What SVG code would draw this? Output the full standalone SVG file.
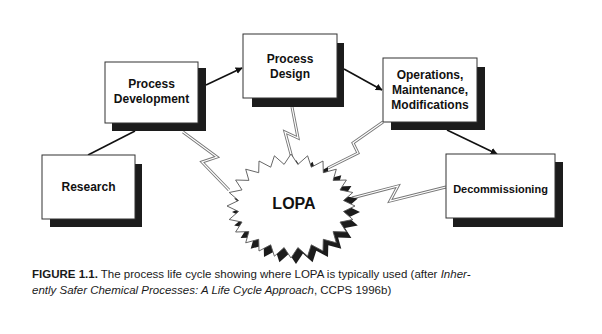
<svg xmlns="http://www.w3.org/2000/svg" width="602" height="334" viewBox="0 0 602 334">
<style>
.sh{fill:#1c1c1c}
.bx{fill:#fff;stroke:#333;stroke-width:1}
.lb{font-family:"Liberation Sans",Arial,sans-serif;font-weight:bold;font-size:12px;fill:#111;text-anchor:middle}
.ar{stroke:#111;stroke-width:1.6;fill:none}
.bo{fill:none;stroke:#777;stroke-width:3;stroke-linejoin:miter}
.bi{fill:none;stroke:#fff;stroke-width:1.2;stroke-linejoin:miter}
.cap{font-family:"Liberation Sans",Arial,sans-serif;font-size:11.5px;fill:#1a1a1a}
</style>
<defs>
<marker id="ah" viewBox="0 0 10 10" refX="9" refY="5" markerWidth="7" markerHeight="7" orient="auto" markerUnits="userSpaceOnUse">
<path d="M0,0 L10,5 L0,10 z" fill="#111"/>
</marker>
</defs>
<rect width="602" height="334" fill="#fff"/>

<g id="connectors">
<line class="ar" x1="88" y1="155" x2="135" y2="131"/>
<line class="ar" x1="206" y1="85" x2="242" y2="68" marker-end="url(#ah)"/>
<line class="ar" x1="344" y1="69" x2="382" y2="90" marker-end="url(#ah)"/>
<line class="ar" x1="447" y1="130" x2="497" y2="154" marker-end="url(#ah)"/>
<g id="bolts">
<path class="bo" d="M183,132 L217,157 L202,162 L229,190"/>
<path class="bi" d="M183,132 L217,157 L202,162 L229,190"/>
<path class="bo" d="M292,107 L298,138 L285,132 L292,158"/>
<path class="bi" d="M292,107 L298,138 L285,132 L292,158"/>
<path class="bo" d="M383,122 L353,143 L358,153 L328,168"/>
<path class="bi" d="M383,122 L353,143 L358,153 L328,168"/>
<path class="bo" d="M446,187 L390,201 L398,186 L352,198"/>
<path class="bi" d="M446,187 L390,201 L398,186 L352,198"/>
</g>
</g>

<g id="research">
<rect class="sh" x="50" y="164" width="92" height="63"/>
<rect class="bx" x="42" y="155" width="93" height="64"/>
<text class="lb" x="88.5" y="191">Research</text>
</g>

<g id="process-development">
<rect class="sh" x="112" y="68" width="94" height="63"/>
<rect class="bx" x="105" y="62" width="93" height="61"/>
<text class="lb" x="151.5" y="88">Process</text>
<text class="lb" x="151.5" y="103">Development</text>
</g>

<g id="process-design">
<rect class="sh" x="252" y="43" width="92" height="64"/>
<rect class="bx" x="243" y="34" width="94" height="64"/>
<text class="lb" x="290" y="63">Process</text>
<text class="lb" x="290" y="78">Design</text>
</g>

<g id="operations">
<rect class="sh" x="391" y="67" width="94" height="63"/>
<rect class="bx" x="383" y="58" width="94" height="64"/>
<text class="lb" x="430" y="79">Operations,</text>
<text class="lb" x="430" y="94">Maintenance,</text>
<text class="lb" x="430" y="109">Modifications</text>
</g>

<g id="decommissioning">
<rect class="sh" x="453" y="162" width="110" height="65"/>
<rect class="bx" x="446" y="154" width="109" height="64"/>
<text class="lb" x="500.5" y="193" style="font-size:11px">Decommissioning</text>
</g>

<g id="lopa">
<polygon class="sh" transform="translate(5,6)" points="355,206 343.5,211.5 352.8,219.5 340,222.1 346.4,232 333.1,231.6 336.3,242.8 323.3,239.3 323,251 311.3,244.8 307.6,256.2 297.9,247.6 291,258 284.1,247.6 274.4,256.2 270.7,244.8 259,251 258.7,239.3 245.7,242.8 248.9,231.6 235.6,232 242,222.1 229.2,219.5 238.5,211.5 227,206 238.5,200.5 229.2,192.5 242,189.9 235.6,180 248.9,180.4 245.7,169.2 258.7,172.7 259,161 270.7,167.2 274.4,155.8 284.1,164.4 291,154 297.9,164.4 307.6,155.8 311.3,167.2 323,161 323.3,172.7 336.3,169.2 333.1,180.4 346.4,180 340,189.9 352.8,192.5 343.5,200.5"/>
<polygon fill="#fff" stroke="#555" stroke-width="0.9" points="355,206 343.5,211.5 352.8,219.5 340,222.1 346.4,232 333.1,231.6 336.3,242.8 323.3,239.3 323,251 311.3,244.8 307.6,256.2 297.9,247.6 291,258 284.1,247.6 274.4,256.2 270.7,244.8 259,251 258.7,239.3 245.7,242.8 248.9,231.6 235.6,232 242,222.1 229.2,219.5 238.5,211.5 227,206 238.5,200.5 229.2,192.5 242,189.9 235.6,180 248.9,180.4 245.7,169.2 258.7,172.7 259,161 270.7,167.2 274.4,155.8 284.1,164.4 291,154 297.9,164.4 307.6,155.8 311.3,167.2 323,161 323.3,172.7 336.3,169.2 333.1,180.4 346.4,180 340,189.9 352.8,192.5 343.5,200.5"/>
<text class="lb" x="294" y="209" style="font-size:16px">LOPA</text>
</g>

<g id="caption">
<text class="cap" x="32" y="278"><tspan font-weight="bold">FIGURE 1.1.</tspan> The process life cycle showing where LOPA is typically used (after <tspan font-style="italic">Inher-</tspan></text>
<text class="cap" x="32" y="294"><tspan font-style="italic">ently Safer Chemical Processes: A Life Cycle Approach</tspan>, CCPS 1996b)</text>
</g>
</svg>
